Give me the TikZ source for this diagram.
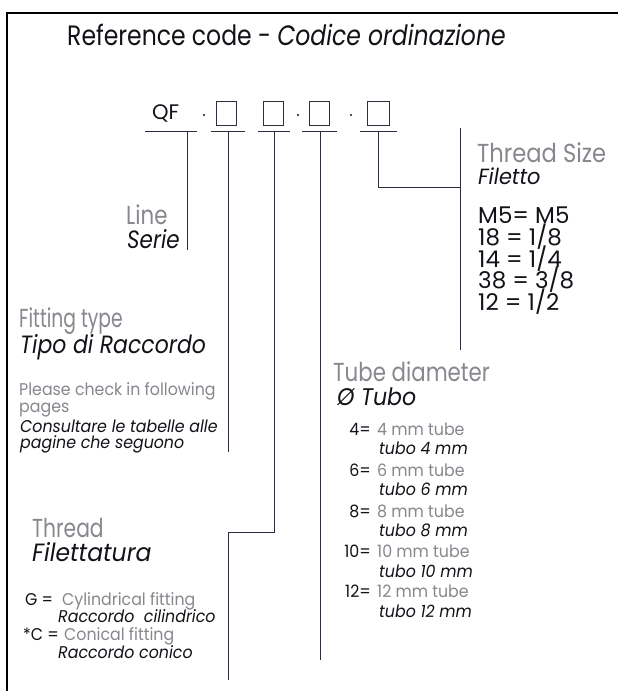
\documentclass[tikz,border=0pt]{standalone}
\usepackage{fontspec}
\setmainfont{Poppins}
\definecolor{txtgray}{RGB}{135,135,142}
\definecolor{txtblack}{RGB}{18,18,24}
\definecolor{linec}{RGB}{45,45,62}
\begin{document}
\begin{tikzpicture}[x=1pt,y=-1pt,
  lbl/.style={inner sep=0pt, anchor=base west, text=txtblack},
  gry/.style={lbl, text=txtgray},
  rlbl/.style={inner sep=0pt, anchor=base east, text=txtblack},
  big/.style={font=\fontsize{26}{30}\selectfont\addfontfeatures{FakeStretch=#1}},
  big/.default=0.83,
  bigit/.style={font=\fontsize{25}{29}\selectfont\addfontfeatures{FakeStretch=#1}\itshape},
  bigit/.default=0.88,
  sml/.style={font=\fontsize{17}{20}\selectfont\addfontfeatures{FakeStretch=0.93}},
  smlit/.style={font=\fontsize{17}{20}\selectfont\addfontfeatures{FakeStretch=0.93}\itshape},
  lst/.style={font=\fontsize{23}{26}\selectfont},
  conn/.style={draw=linec, line width=0.9pt},
  codebox/.style={draw=linec, line width=0.8pt, minimum width=20pt, minimum height=24pt, inner sep=0pt},
  dotmark/.style={circle, fill=txtblack, inner sep=0pt, minimum size=2.4pt}]
\useasboundingbox (0,0) rectangle (618,691);
\fill[white] (0,0) rectangle (618,691);
\draw[line width=2pt, black] (7,691) -- (7,12.5) -- (618,12.5);

% title
\node[lbl, font=\fontsize{28}{32}\selectfont\addfontfeatures{FakeStretch=0.84}] (title) at (67,45) {Reference code - \textit{Codice ordinazione}};

% code row
\node[lbl, font=\fontsize{21}{24}\selectfont] (qf) at (152,119) {QF};
\node[dotmark] (d1) at (204,115) {};
\node[dotmark] (d2) at (298,115) {};
\node[dotmark] (d3) at (351,115) {};
\node[codebox] (b1) at (226,113) {};
\node[codebox] (b2) at (273,113) {};
\node[codebox] (b3) at (319,113) {};
\node[codebox, minimum width=22pt] (b4) at (378.5,113) {};

% underlines
\coordinate (qa) at (145,131); \coordinate (qb) at (197,131);
\coordinate (ua1) at (211,131); \coordinate (ub1) at (245,131);
\coordinate (ua2) at (258,131); \coordinate (ub2) at (290,131);
\coordinate (ua3) at (302,131); \coordinate (ub3) at (337,131);
\coordinate (ua4) at (360,131); \coordinate (ub4) at (397,131);
\draw[conn] (qa) -- (qb);
\draw[conn] (ua1) -- (ub1);
\draw[conn] (ua2) -- (ub2);
\draw[conn] (ua3) -- (ub3);
\draw[conn] (ua4) -- (ub4);

% connector coordinates
\coordinate (qv) at (187,131); \coordinate (qe) at (187,250);
\coordinate (v1) at (228,131); \coordinate (e1) at (228,452);
\coordinate (v2) at (274,131); \coordinate (k2) at (274,532); \coordinate (j2) at (228,532); \coordinate (e2) at (228,680);
\coordinate (v3) at (320,131); \coordinate (e3) at (320,660);
\coordinate (v4) at (378,131); \coordinate (k4) at (378,187); \coordinate (e4) at (460,187);
\coordinate (ta) at (460,128); \coordinate (tb) at (460,350);
\draw[conn] (qv) -- (qe);
\draw[conn] (v1) -- (e1);
\draw[conn] (v2) -- (k2) -- (j2) -- (e2);
\draw[conn] (v3) -- (e3);
\draw[conn] (v4) -- (k4) -- (e4);
\draw[conn] (ta) -- (tb);

% Line / Serie
\node[gry, big=0.82] (line) at (126,224) {Line};
\node[lbl, bigit=0.86] (serie) at (127,248) {Serie};

% Fitting type
\node[gry, big=0.72] (ft) at (19,327) {Fitting type};
\node[lbl, bigit=0.88] (ftit) at (20,353) {Tipo di Raccordo};
\node[gry, sml] (pc1) at (19,395) {Please check in following};
\node[gry, sml] (pc2) at (19,412) {pages};
\node[lbl, smlit] (pc3) at (20,432) {Consultare le tabelle alle};
\node[lbl, smlit] (pc4) at (20,448) {pagine che seguono};

% Thread
\node[gry, big=0.78] (th) at (32,537) {Thread};
\node[lbl, bigit=0.94] (thit) at (32,561) {Filettatura};
\node[lbl, sml] (gk) at (25,605) {G =};
\node[gry, sml] (gt) at (62,605) {Cylindrical fitting};
\node[lbl, smlit] (gi) at (58,622.5) {Raccordo\ \ cilindrico};
\node[lbl, sml] (ck) at (23,640) {*C =};
\node[gry, sml] (ct) at (64,640) {Conical fitting};
\node[lbl, smlit] (ci) at (58,658) {Raccordo conico};

% Tube diameter
\node[gry, big=0.82] (td) at (333,381) {Tube diameter};
\node[lbl, font=\fontsize{24}{28}\selectfont\addfontfeatures{FakeStretch=0.92}\itshape] (tdit) at (337,405) {Ø Tubo};
\node[rlbl, sml] (k4mm) at (371,435) {4=};
\node[gry, sml] (t4) at (377,435) {4 mm tube};
\node[lbl, smlit] (i4) at (379,454) {tubo 4 mm};
\node[rlbl, sml] (k6mm) at (371,476) {6=};
\node[gry, sml] (t6) at (377,476) {6 mm tube};
\node[lbl, smlit] (i6) at (379,495) {tubo 6 mm};
\node[rlbl, sml] (k8mm) at (371,517) {8=};
\node[gry, sml] (t8) at (377,517) {8 mm tube};
\node[lbl, smlit] (i8) at (379,536) {tubo 8 mm};
\node[rlbl, sml] (k10mm) at (371,557) {10=};
\node[gry, sml] (t10) at (377,557) {10 mm tube};
\node[lbl, smlit] (i10) at (379,577) {tubo 10 mm};
\node[rlbl, sml] (k12mm) at (371,597) {12=};
\node[gry, sml] (t12) at (377,597) {12 mm tube};
\node[lbl, smlit] (i12) at (379,617) {tubo 12 mm};

% Thread size
\node[gry, big=0.87] (ts) at (477,162) {Thread Size};
\node[lbl, font=\fontsize{22}{25}\selectfont\addfontfeatures{FakeStretch=0.95}\itshape] (tsit) at (478,184) {Filetto};
\node[lbl, lst] (s1) at (478,223) {M5= M5};
\node[lbl, lst] (s2) at (478,245) {18 = 1/8};
\node[lbl, lst] (s3) at (478,267) {14 = 1/4};
\node[lbl, lst] (s4) at (478,288) {38 = 3/8};
\node[lbl, lst] (s5) at (478,310) {12 = 1/2};
\end{tikzpicture}
\end{document}
